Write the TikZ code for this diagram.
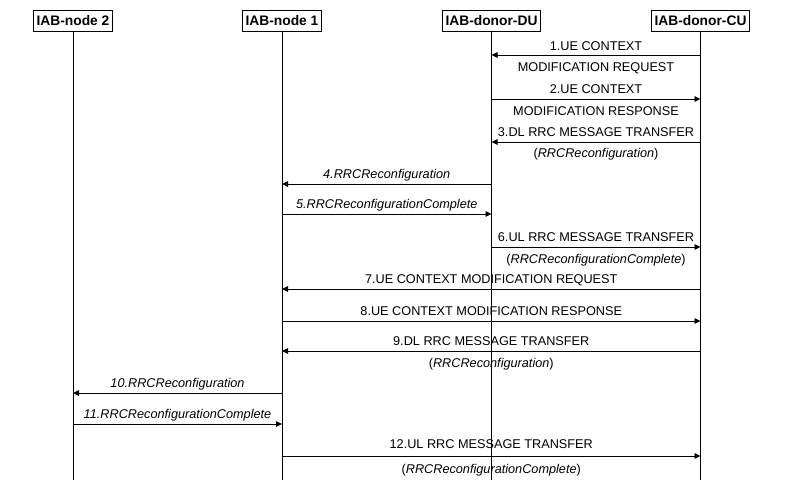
\documentclass[tikz,border=0pt]{standalone}
\usepackage{fontspec}
\setmainfont{Liberation Sans}
\usetikzlibrary{arrows.meta}
\newcommand\mymsg[8]{% #1 name, #2 from, #3 to, #4 y, #5 top, #6 bottom, #7 top shift, #8 bottom shift
  \coordinate (#1s) at (#2 |- 0,#4);
  \coordinate (#1e) at (#3 |- 0,#4);
  \draw[msg] (#1s) -- node[lbl, midway, yshift=#7] (#1t) {#5}
                      node[lbl, midway, yshift=-#8] (#1b) {#6} (#1e);
}
\begin{document}
\begin{tikzpicture}[x=1pt,y=-1pt,
  hdr/.style={draw, line width=0.9pt, font=\fontsize{13.8}{16}\selectfont\bfseries,
              inner xsep=3pt, inner ysep=0pt, minimum height=21pt},
  life/.style={line width=0.9pt},
  msg/.style={line width=0.9pt, -{Triangle[length=6pt,width=5.5pt]}},
  lbl/.style={font=\fontsize{12.7}{15}\selectfont, inner sep=0pt, anchor=base},
]
\useasboundingbox (0,0) rectangle (786,488);
\node[hdr] (n2) at (73,20.5) {IAB-node 2};
\node[hdr] (n1) at (282,20.5) {IAB-node 1};
\node[hdr] (du) at (491.5,20.5) {IAB-donor-DU};
\node[hdr] (cu) at (700.5,20.5) {IAB-donor-CU};
\coordinate (n2end) at (n2 |- 0,480);
\coordinate (n1end) at (n1 |- 0,480);
\coordinate (duend) at (du |- 0,480);
\coordinate (cuend) at (cu |- 0,480);
\draw[life] (n2) -- (n2end);
\draw[life] (n1) -- (n1end);
\draw[life] (du) -- (duend);
\draw[life] (cu) -- (cuend);

\mymsg{m1}{cu}{du}{55}{1.UE CONTEXT}{MODIFICATION REQUEST}{4.5pt}{16.5pt}
\mymsg{m2}{du}{cu}{99}{2.UE CONTEXT}{MODIFICATION RESPONSE}{6pt}{16pt}
\mymsg{m3}{cu}{du}{142}{3.DL RRC MESSAGE TRANSFER}{(\textit{RRCReconfiguration})}{6pt}{15pt}
\mymsg{m4}{du}{n1}{184}{\textit{4.RRCReconfiguration}}{}{6pt}{16pt}
\mymsg{m5}{n1}{du}{214}{\textit{5.RRCReconfigurationComplete}}{}{6pt}{16pt}
\mymsg{m6}{du}{cu}{247}{6.UL RRC MESSAGE TRANSFER}{(\textit{RRCReconfigurationComplete})}{6pt}{16pt}
\mymsg{m7}{cu}{n1}{289}{7.UE CONTEXT MODIFICATION REQUEST}{}{6pt}{16pt}
\mymsg{m8}{n1}{cu}{321}{8.UE CONTEXT MODIFICATION RESPONSE}{}{6pt}{16pt}
\mymsg{m9}{cu}{n1}{351}{9.DL RRC MESSAGE TRANSFER}{(\textit{RRCReconfiguration})}{6pt}{16pt}
\mymsg{m10}{n1}{n2}{393}{\textit{10.RRCReconfiguration}}{}{6pt}{16pt}
\mymsg{m11}{n2}{n1}{424}{\textit{11.RRCReconfigurationComplete}}{}{6pt}{16pt}
\mymsg{m12}{n1}{cu}{456}{12.UL RRC MESSAGE TRANSFER}{(\textit{RRCReconfigurationComplete})}{8pt}{17pt}
\end{tikzpicture}
\end{document}
